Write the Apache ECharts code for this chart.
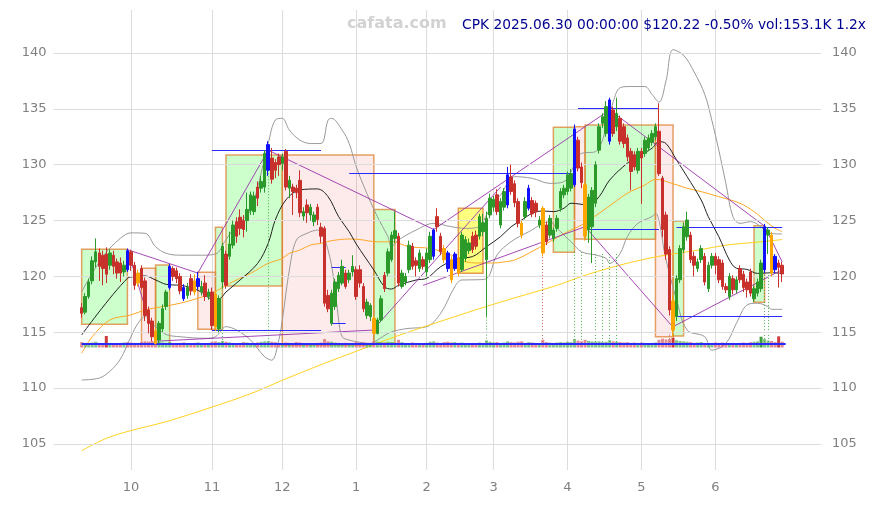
<!DOCTYPE html>
<html><head><meta charset="utf-8">
<script src="https://cdn.jsdelivr.net/npm/echarts@6/dist/echarts.min.js"></script>
<style>html,body{margin:0;padding:0;background:#fff}#c{width:876px;height:505px}</style>
</head><body><div id="c"></div>
<script>
// ---------- data ----------
const holidays = ['2024-11-28','2024-12-25','2025-01-01','2025-01-09','2025-01-20','2025-02-17','2025-04-18','2025-05-26','2025-06-19'];
const yTicks = [105,110,115,120,125,130,135,140];
const titleText = 'CPK 2025.06.30 00:00:00 $120.22 -0.50% vol:153.1K 1.2x';
const watermark = 'cafata.com';
// [open, close, low, high]
const ohlc = [
[117.2,116.7,116.3,117.6],[116.8,118.2,116.6,118.5],[118.2,119.5,118.0,119.8],[119.6,121.4,119.3,121.8],[121.3,122.2,120.8,123.4],
[122.1,120.9,119.6,122.5],[121.9,120.7,119.2,122.3],[122.0,120.2,119.4,122.6],[121.0,122.1,120.6,122.4],[121.9,120.9,120.2,122.3],
[121.3,120.3,119.8,121.6],[121.2,120.3,119.5,121.7],[120.4,121.0,120.0,121.4],[122.3,120.6,120.4,122.5],[122.2,121.0,120.5,122.4],
[121.0,119.2,118.8,121.3],[120.3,119.4,119.1,120.6],[120.7,119.0,118.8,121.0],[119.6,116.5,116.0,119.9],[117.0,115.8,114.9,117.3],
[116.0,114.6,114.2,116.3],[115.1,114.0,113.9,115.4],[114.3,115.8,114.0,116.0],[115.3,117.1,115.0,117.5],[117.3,118.6,117.0,118.8],
[119.0,120.9,118.8,121.1],[120.7,120.0,119.6,120.9],[120.5,119.8,119.4,120.8],[120.0,118.7,118.4,120.3],[119.0,118.0,117.8,119.3],
[118.3,119.0,118.0,119.4],[119.8,118.7,118.3,120.2],[119.6,118.6,118.3,120.2],[119.1,119.8,118.8,120.4],[118.6,119.1,118.3,119.6],
[119.4,118.2,117.8,120.1],[118.2,118.6,117.9,118.9],[118.6,115.6,115.2,119.0],[118.4,115.5,115.1,118.7],[115.3,118.0,115.0,118.3],
[119.5,122.7,118.9,123.0],[122.0,119.2,118.9,122.3],[121.8,122.9,121.5,124.0],[122.8,124.6,122.5,125.0],[124.9,123.6,123.0,125.3],
[125.3,124.3,123.7,126.0],[125.0,124.2,123.5,125.5],[125.0,126.0,124.0,127.5],[125.9,127.3,125.5,127.6],[125.8,127.2,125.5,127.6],
[128.0,127.0,126.3,128.5],[127.9,128.5,127.5,129.0],[128.0,131.0,127.5,131.3],[129.5,131.8,129.0,132.1],[130.6,128.7,128.3,131.5],
[130.2,129.5,128.8,130.5],[130.7,130.0,129.0,131.0],[130.1,130.7,129.5,131.0],[131.2,128.0,127.7,131.4],[127.9,128.6,127.0,129.0],
[128.0,127.6,125.5,128.3],[127.9,127.5,127.0,128.2],[128.6,125.7,125.3,129.5],[125.4,125.8,125.0,126.2],[126.4,125.7,124.8,126.9],
[125.5,126.2,125.0,126.5],[124.9,125.5,124.5,125.8],[126.2,125.1,124.6,126.5],[124.4,123.6,123.0,124.8],[124.3,117.6,117.3,124.5],
[118.3,117.1,116.8,118.8],[115.8,118.5,115.6,118.8],[117.3,119.5,117.0,119.8],[118.9,120.1,118.6,120.4],[119.4,120.9,119.2,121.5],
[120.3,119.1,118.9,120.6],[119.7,120.3,119.4,120.6],[120.4,120.9,120.0,121.9],[120.6,118.2,117.9,120.9],[120.6,119.4,119.0,121.0],
[119.1,117.1,116.8,119.4],[116.5,117.7,116.2,118.0],[116.4,117.4,116.0,117.6],[116.25,114.9,114.8,116.5],[114.9,116.1,114.8,116.3],
[116.1,118.0,115.9,118.3],[120.1,118.9,118.6,120.4],[120.3,122.2,120.0,122.5],[121.5,123.7,121.3,124.0],[123.4,124.1,123.0,125.8],
[123.6,119.4,119.1,123.9],[119.1,120.3,118.9,120.6],[119.5,120.0,119.2,120.3],[120.6,122.8,120.3,123.2],[122.7,120.9,120.6,123.0],
[121.4,121.0,120.0,121.7],[120.7,122.1,120.4,122.4],[121.5,120.9,120.6,121.8],[120.4,122.1,120.0,122.5],[121.5,123.6,121.2,124.0],
[121.8,124.15,121.5,124.3],[125.35,124.45,124.0,126.1],[123.6,122.2,121.9,123.9],[122.5,121.5,121.2,122.8],[122.1,120.7,120.4,122.3],
[121.5,119.7,119.4,121.8],[120.7,122.0,120.5,122.2],[121.6,120.3,120.0,121.9],[120.6,123.7,120.4,124.0],[121.6,123.3,121.3,123.6],
[122.3,123.0,122.0,123.4],[123.6,122.4,122.1,124.0],[123.7,122.7,122.4,124.1],[123.6,125.35,123.3,125.6],[124.0,124.8,123.6,125.6],
[121.5,125.2,116.4,125.8],[125.5,127.0,125.2,127.4],[126.2,126.9,125.8,127.2],[127.3,125.8,125.5,127.8],[124.6,126.7,124.3,127.0],
[126.2,127.6,125.9,127.9],[126.4,129.1,126.1,129.8],[128.9,127.6,127.3,130.0],[128.3,126.6,126.2,128.6],[126.7,124.75,124.4,127.0],
[124.75,123.7,123.4,125.0],[125.35,126.7,125.1,127.1],[126.1,127.9,125.9,128.2],[126.8,125.6,125.3,127.1],[126.55,125.8,125.3,126.8],
[124.6,125.05,124.3,125.4],[126.1,122.1,121.8,126.3],[124.6,123.1,122.8,124.9],[123.7,125.2,123.4,125.5],[123.4,124.15,123.1,124.4],
[124.3,125.2,124.0,125.5],[126.1,127.6,125.8,127.9],[127.3,127.9,127.0,128.2],[127.6,129.1,127.3,129.4],[127.9,129.2,127.6,129.6],
[128.2,133.2,128.0,133.6],[132.2,129.7,129.4,132.5],[129.8,128.4,127.9,130.2],[128.2,123.6,123.2,128.4],[124.15,127.1,123.0,127.4],
[124.45,127.7,121.2,128.0],[126.55,130.0,126.2,130.3],[131.3,133.4,131.0,133.7],[133.7,134.3,133.3,134.6],[132.8,135.2,132.5,135.7],
[132.1,135.8,131.8,136.0],[134.9,132.8,132.5,135.2],[133.4,134.6,133.0,136.0],[134.15,132.1,131.8,134.4],[133.4,131.9,131.5,133.7],
[132.4,130.7,130.3,132.7],[131.2,129.4,127.7,131.5],[130.9,129.8,129.5,131.2],[129.5,131.2,129.2,131.5],[131.2,130.6,126.5,131.5],
[131.0,132.2,130.7,132.5],[131.5,132.4,131.2,132.7],[132.0,132.8,131.7,133.1],[132.5,133.4,132.2,133.7],[133.0,129.2,129.0,135.5],
[128.8,124.2,123.5,129.0],[125.5,122.0,121.5,125.8],[122.4,117.0,116.5,122.7],[117.8,115.2,114.6,118.3],[116.4,119.8,116.0,120.1],
[119.7,122.5,119.4,122.8],[122.4,124.45,122.1,124.8],[123.55,125.05,123.2,125.8],[123.7,121.5,121.2,124.0],[121.8,121.0,120.0,122.2],
[120.7,121.3,120.4,121.6],[121.5,122.5,121.2,122.8],[121.8,119.5,119.2,122.1],[118.9,121.0,118.6,121.3],[121.0,121.8,120.7,122.1],
[121.8,121.0,120.2,122.1],[121.5,119.7,119.4,121.8],[121.2,119.1,118.8,121.5],[119.1,118.8,118.5,119.4],[118.2,120.0,117.9,120.3],
[119.8,118.8,118.4,120.1],[118.8,119.7,118.5,120.0],[120.7,119.7,119.4,121.0],[120.2,119.0,118.6,120.5],[119.5,118.8,118.1,119.8],
[120.4,118.5,118.2,120.7],[118.0,118.9,117.7,119.2],[118.5,119.5,118.2,119.8],[118.9,121.2,118.6,121.5],[120.6,124.45,120.3,124.7],
[123.7,124.15,122.0,124.4],[123.7,120.3,120.0,124.0],[121.8,120.6,120.3,122.0],[121.2,120.82,119.0,121.5],[121.0,120.22,119.5,121.3]
];
// volume in thousands
const volume = [
140,120,110,130,150,120,110,300,120,110,100,120,130,140,130,120,110,140,160,150,
170,180,150,130,120,140,110,100,120,130,110,100,120,130,110,100,120,150,160,140,
170,150,130,120,110,120,140,130,120,110,130,150,160,170,150,140,120,110,130,120,
110,140,130,110,100,90,110,120,130,220,160,150,130,120,110,120,100,110,140,120,
130,110,120,160,150,140,130,150,140,130,200,140,120,110,130,120,110,100,120,150,
160,130,120,140,150,130,140,120,130,110,100,120,110,130,120,180,150,130,140,120,
130,160,140,130,150,160,120,140,130,120,110,200,140,130,120,130,140,130,150,140,
220,180,160,200,170,160,150,160,140,150,190,160,150,140,130,140,120,130,120,130,
120,110,120,130,200,230,210,220,250,190,170,160,150,140,120,130,140,120,110,120,
130,120,130,120,110,120,110,120,130,120,140,150,160,280,220,180,170,140,290,153.1
];
const blueIdx = [13,25,29,33,53,100,104,106,121,127,140,150,194,197];
const orangeIdx = [16,21,32,38,83,103,105,107,125,131,143,168,196];
// [day index, value]
const ma20 = [[0,114.76],[13,119.83],[15,119.98],[18,120.04],[21,119.68],[24,119.29],[28,119.2],[31,119.0],[34,118.6],[37,118.0],[39,118.0],[41,118.6],[45,119.68],[50,121.17],[53,122.97],[55,125.05],[58,126.84],[62,127.74],[67,127.83],[70,127.14],[73,125.35],[76,124.0],[78,122.9],[83,120.57],[86,119.08],[88,118.87],[90,119.2],[95,119.68],[98,119.83],[102,120.87],[107,121.62],[111,121.77],[115,122.66],[119,123.56],[122,124.45],[125,125.05],[128,125.65],[131,125.86],[134,125.8],[137,126.1],[139,126.55],[144,126.4],[147,127.14],[150,128.63],[155,130.13],[158,130.72],[162,131.47],[164,132.06],[166,131.9],[169,130.42],[172,128.93],[176,126.84],[178,125.35],[181,123.56],[184,121.47],[186,120.73],[189,120.63],[192,120.27],[196,120.33],[199,120.27]];
const ma50 = [[0,113.12],[3,114.6],[8,116.1],[14,116.55],[18,117.0],[23,117.3],[28,117.6],[33,118.04],[37,118.49],[42,119.38],[48,120.28],[53,121.17],[57,121.6],[59,122.07],[62,122.36],[65,122.81],[68,122.96],[71,123.2],[76,123.35],[79,123.3],[84,123.1],[88,123.1],[93,122.66],[99,122.5],[105,121.92],[107,121.5],[112,121.2],[117,121.2],[120,121.3],[123,121.47],[127,122.07],[133,123.11],[138,124.0],[142,124.6],[147,125.65],[151,126.55],[155,127.44],[160,128.18],[163,128.69],[168,128.3],[172,127.89],[176,127.59],[181,127.14],[187,126.55],[191,125.8],[195,124.76],[197,124.31],[199,124.0]];
const ma200 = [[0,104.4],[7,105.5],[14,106.2],[24,107.0],[37,108.3],[48,109.5],[57,110.7],[68,112.1],[78,113.3],[89,114.6],[106,116.4],[120,117.8],[134,119.1],[144,120.2],[154,121.1],[164,121.8],[176,122.4],[183,122.8],[193,123.1],[199,123.3]];
const bbUpper = [[0,118.63],[6,121.76],[11,123.41],[14,123.9],[18,123.86],[21,122.66],[24,122.07],[28,121.9],[34,121.9],[38,122.0],[41,123.3],[44,124.6],[48,125.95],[53,131.92],[55,134.0],[57,134.15],[59,133.1],[62,132.2],[65,131.9],[68,131.9],[70,134.0],[71,134.15],[74,133.1],[76,131.9],[78,129.82],[81,127.44],[84,125.35],[87,123.56],[88,122.66],[90,123.26],[95,124.15],[100,124.75],[105,124.45],[109,124.3],[113,124.45],[115,125.5],[117,126.55],[119,127.29],[123,128.93],[128,128.78],[133,128.33],[137,128.48],[139,129.37],[142,131.02],[146,131.17],[149,133.26],[151,135.64],[153,136.9],[156,137.0],[160,137.0],[162,136.3],[164,135.6],[166,137.5],[168,140.3],[171,139.8],[174,138.3],[177,136.3],[179,134.0],[181,131.3],[183,128.33],[185,125.35],[187,124.75],[190,124.9],[193,124.45],[195,123.86],[199,123.8]];
const bbLower = [[0,110.73],[5,110.9],[8,111.5],[11,112.6],[14,114.6],[16,115.8],[18,116.4],[21,115.5],[24,114.8],[28,114.6],[35,114.46],[38,114.6],[41,115.5],[44,115.2],[48,114.3],[52,112.8],[54,112.5],[56,114.3],[57,116.1],[59,120.57],[61,123.26],[64,123.86],[67,124.15],[70,122.36],[72,118.8],[73,116.1],[74,114.6],[76,114.3],[79,114.1],[82,114.0],[84,114.3],[87,114.9],[90,115.2],[93,115.35],[98,115.5],[102,116.7],[106,119.08],[108,119.68],[112,119.7],[115,119.8],[118,121.92],[122,123.11],[127,124.0],[133,124.9],[135,124.31],[139,123.11],[142,122.2],[146,121.92],[149,121.62],[150,121.17],[153,122.07],[155,123.56],[158,124.75],[162,125.35],[163,125.65],[166,121.5],[169,117.9],[172,115.2],[177,114.6],[179,113.4],[183,114.0],[186,115.8],[189,117.44],[192,117.6],[195,117.3],[196,117.05],[199,117.05]];
// boxes: [fromIdx, toIdx, top, bottom, kind]
const boxes = [
[0,13,122.43,115.71,'g'],[17,21,120.73,113.92,'r'],[21,25,121.02,113.92,'g'],[33,38,120.37,115.27,'r'],
[38,40,124.4,115.2,'g'],[41,57,130.87,119.14,'g'],[57,83,130.87,113.86,'r'],[83,89,126.0,114.0,'g'],
[107,114,126.1,120.28,'y'],[134,140,133.35,122.16,'g'],[140,143,133.4,123.35,'r'],[143,163,133.55,123.32,'g'],
[163,168,133.55,114.6,'r'],[168,171,124.96,114.67,'g'],[191,194,124.54,117.68,'g']
];
// purple trend segments: [idx1, v1, idx2, v2]
const purpleSegs = [
[13,122.4,33,120.3],[13,122.4,21,114.2],[21,114.2,83,115.2],[33,120.3,53,131.3],[53,131.3,100,124.2],
[83,115.3,119,128.0],[100,124.2,150,134.9],[97,119.2,143,124.45],[143,124.45,168,115.45],[150,134.9,194,124.5],
[194,124.5,199,121.3],[168,115.5,199,120.6]
];
// blue level segments: [idx1, idx2, value]
const blueSegs = [
[37,68,131.3],[76,139,129.2],[141,164,135.0],[143,164,124.2],[76,139,115.0],[37,68,115.2],
[71,75,120.8],[71,75,115.8],[169,199,124.4],[169,199,116.45]
];
const baseLevel = [0,200,113.95];
// dotted markers: [idx, top value, kind]
const dotted = [[40,115.2,'g'],[53,129.5,'g'],[115,116.4,'g'],[131,122.0,'r'],[140,122.2,'g'],[142,122.2,'g'],[146,122.0,'g'],[148,122.0,'g'],[150,122.0,'g'],[152,122.0,'g'],[167,115.0,'r'],[168,114.6,'r'],[194,120.4,'g'],[195,120.4,'g']];

// ---------- build ----------
const N = ohlc.length;
const dates = [];
(function(){
  const d = new Date(Date.UTC(2024,8,11));
  while (dates.length < N) {
    const wd = d.getUTCDay(); const s = d.toISOString().slice(0,10);
    if (wd !== 0 && wd !== 6 && holidays.indexOf(s) < 0) dates.push(s);
    d.setUTCDate(d.getUTCDate()+1);
  }
})();
const padL = 8, padR = 11;
const cats = [];
for (let i=0;i<padL;i++) cats.push('pl'+i);
dates.forEach(d=>cats.push(d));
for (let i=0;i<padR;i++) cats.push('pr'+i);
const cx = i => i + padL;
const labelAt = {};
for (let i=1;i<N;i++) if (dates[i].slice(5,7)!==dates[i-1].slice(5,7)) labelAt[cx(i)] = String(parseInt(dates[i].slice(5,7),10));

const FONT = 'DejaVu Sans';
const UP='#2b9a2b', DOWN='#c8302c', BLUE='#1010ff', ORANGE='#ffa500';
const special = {};
blueIdx.forEach(i=>special[i]=BLUE); orangeIdx.forEach(i=>special[i]=ORANGE);
const candleData = ohlc.map((d,i)=>{
  const it = {value:[cx(i), d[0], d[1], d[2], d[3]]};
  if (special[i]) { const c=special[i]; it.itemStyle={color:c,color0:c,borderColor:c,borderColor0:c}; }
  return it;
});
const volData = volume.map((v,i)=>{
  const up = ohlc[i][1] >= ohlc[i][0];
  const col = v >= 250 ? (up ? 'rgba(40,150,40,0.9)' : 'rgba(200,40,40,0.9)') : (up ? 'rgba(80,170,80,0.7)' : 'rgba(215,100,110,0.75)');
  return {value:[cx(i), v], itemStyle:{color:col}};
});
const boxStyle = {
  g:{color:'rgba(0,255,0,0.2)', borderColor:'rgba(220,130,50,0.75)', borderWidth:1.5},
  r:{color:'rgba(240,60,60,0.1)', borderColor:'rgba(220,130,50,0.75)', borderWidth:1.5},
  y:{color:'rgba(255,255,0,0.5)', borderColor:'rgba(220,130,50,0.8)', borderWidth:1.5}
};
const lineSeries = (name, arr, color, z) => ({
  name, type:'line', data: arr.map(p=>[cx(p[0]), p[1]]), symbol:'none', showSymbol:false, smooth:0.35,
  lineStyle:{color, width:1}, z, silent:true
});
// segment styles: 0 purple, 1 blue, 2 green dotted, 3 red dotted, 4 base
const segStyles = [
  {stroke:'rgba(150,40,170,0.85)', lineWidth:1},
  {stroke:'#2a2aff', lineWidth:1},
  {stroke:'rgba(60,170,60,0.9)', lineWidth:1, lineDash:[1,2]},
  {stroke:'rgba(200,80,80,0.9)', lineWidth:1, lineDash:[1,2]},
  {stroke:'#2a2aff', lineWidth:2}
];
const segData = [];
purpleSegs.forEach(s=>segData.push([cx(s[0]),s[1],cx(s[2]),s[3],0]));
blueSegs.forEach(s=>segData.push([cx(s[0]),s[2],cx(s[1]),s[2],1]));
dotted.forEach(s=>segData.push([cx(s[0]),s[1],cx(s[0]),baseLevel[2], s[2]==='g'?2:3]));
const baseData = [[cx(baseLevel[0]),baseLevel[2],cx(baseLevel[1]),baseLevel[2],4]];
const crisp = (v, w) => (w % 2 === 1) ? Math.round(v - 0.5) + 0.5 : Math.round(v);
const renderSeg = (params, api) => {
  const a = api.coord([api.value(0), api.value(1)]);
  const b = api.coord([api.value(2), api.value(3)]);
  const s = segStyles[api.value(4)];
  let x1=a[0], y1=a[1], x2=b[0], y2=b[1];
  if (Math.abs(y1-y2) < 0.01) { y1 = y2 = crisp(y1, s.lineWidth); }
  if (Math.abs(x1-x2) < 0.01) { x1 = x2 = crisp(x1, s.lineWidth); }
  return {type:'line', shape:{x1,y1,x2,y2}, style:Object.assign({fill:null}, s), silent:true};
};
const segSeries = (data, z) => ({type:'custom', renderItem:renderSeg, data, encode:{x:[0,2], y:[1,3]}, z, silent:true, clip:false});

const YMIN = 102.67, YMAX = 143.85;
const yAx = (pos, margin) => ({
  type:'value', position:pos, min:YMIN, max:YMAX, scale:true,
  axisLine:{show:false}, axisTick:{show:false}, splitLine:{show:false},
  axisLabel:{customValues:yTicks, color:'#808080', fontSize:13, fontFamily:FONT, margin}
});
const option = {
  animation:false,
  backgroundColor:'#ffffff',
  grid:{left:53.5, right:55.1, top:10, bottom:35, containLabel:false, outerBoundsMode:'none'},
  xAxis:{
    type:'category', data:cats, boundaryGap:false,
    axisLine:{show:false}, axisTick:{show:false},
    axisLabel:{interval:(idx)=>labelAt[idx]!==undefined, formatter:(v,idx)=>labelAt[idx]||'', color:'#808080', fontSize:13, fontFamily:FONT, margin:11},
    splitLine:{show:true, interval:(idx)=>labelAt[idx]!==undefined, lineStyle:{color:'#dcdcdc', width:1}}
  },
  yAxis:[ yAx('left',7), yAx('right',11), {type:'value', show:false, min:-3185, max:8775} ],
  graphic:[
    {type:'text', left:347, top:16, z:50, style:{text:watermark, fill:'#d2d2d2', font:'bold 16px "DejaVu Sans"'}},
    {type:'text', right:10, top:18, z:50, style:{text:titleText, fill:'#000090', font:'13.8px "DejaVu Sans"'}}
  ],
  series:[
    {type:'line', data:[[cx(0),120]], symbol:'none', lineStyle:{width:0}, z:0, silent:true,
     markLine:{silent:true, symbol:['none','none'], label:{show:false}, lineStyle:{color:'#dcdcdc', type:'solid', width:1}, data: yTicks.map(v=>({yAxis:v}))}},
    {type:'line', data:[[cx(0),120]], symbol:'none', lineStyle:{width:0}, z:1, silent:true,
     markArea:{silent:true, label:{show:false}, data: boxes.map(b=>[{coord:[cx(b[0]),b[2]], itemStyle:boxStyle[b[4]]},{coord:[cx(b[1]),b[3]], itemStyle:boxStyle[b[4]]}])}},
    lineSeries('bbU', bbUpper, '#999999', 3),
    lineSeries('bbL', bbLower, '#999999', 3),
    lineSeries('ma200', ma200, '#ffd21f', 3),
    lineSeries('ma50', ma50, '#ffa726', 3),
    lineSeries('ma20', ma20, '#222222', 3),
    segSeries(segData, 4),
    {type:'bar', yAxisIndex:2, data:volData, barWidth:3, z:4.4, silent:true},
    segSeries(baseData, 4.6),
    {type:'candlestick', encode:{x:0, y:[1,2,3,4]}, data:candleData, barWidth:3, z:5, silent:true,
     itemStyle:{color:UP, color0:DOWN, borderColor:UP, borderColor0:DOWN, borderWidth:1}}
  ]
};
const chart = echarts.init(document.getElementById('c'), null, {renderer:'canvas', width:876, height:505});
chart.setOption(option);
</script>
</body></html>
